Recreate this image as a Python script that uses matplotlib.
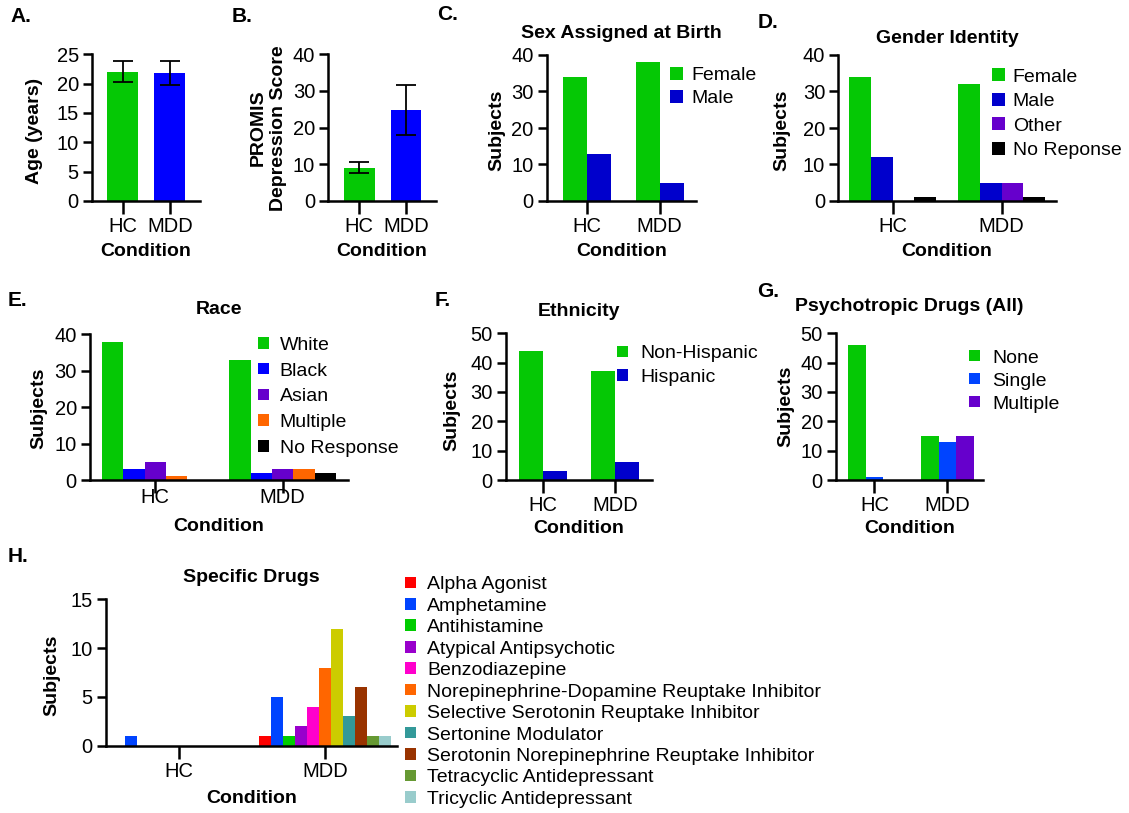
import numpy as np
import matplotlib
matplotlib.use('Agg')
import matplotlib.pyplot as plt
from matplotlib.patches import Patch

plt.rcParams['font.family'] = ['Liberation Sans', 'DejaVu Sans']

W, H = 1129, 813

groups = ['HC', 'MDD']

# A / B: means with error bars
age_mean = [22.0, 21.8]
age_err = [1.8, 2.1]
promis_mean = [9.1, 24.8]
promis_err = [1.4, 6.9]

# C-H: subject counts, one list per category (HC, MDD)
sex_labels = ['Female', 'Male']
sex_counts = [[34, 38], [13, 5]]

gender_labels = ['Female', 'Male', 'Other', 'No Reponse']
gender_counts = [[34, 32], [12, 5], [0, 5], [1, 1]]

race_labels = ['White', 'Black', 'Asian', 'Multiple', 'No Response']
race_counts = [[38, 33], [3, 2], [5, 3], [1, 3], [0, 2]]

eth_labels = ['Non-Hispanic', 'Hispanic']
eth_counts = [[44, 37], [3, 6]]

psy_labels = ['None', 'Single', 'Multiple']
psy_counts = [[46, 15], [1, 13], [0, 15]]

drug_labels = ['Alpha Agonist', 'Amphetamine', 'Antihistamine', 'Atypical Antipsychotic',
               'Benzodiazepine', 'Norepinephrine-Dopamine Reuptake Inhibitor',
               'Selective Serotonin Reuptake Inhibitor', 'Sertonine Modulator',
               'Serotonin Norepinephrine Reuptake Inhibitor', 'Tetracyclic Antidepressant',
               'Tricyclic Antidepressant']
drug_counts = [[0, 1], [1, 5], [0, 1], [0, 2], [0, 4], [0, 8],
               [0, 12], [0, 3], [0, 6], [0, 1], [0, 1]]

GREEN = '#05C805'
BLUE = '#0000FF'
NAVY = '#0000CC'
PURPLE = '#6600CC'
ORANGE = '#FF6600'
AZURE = '#0044FF'
BLACK = '#000000'
drug_colors = ['#FF0000', '#0044FF', '#00CC00', '#9900CC', '#FF00CC', '#FF6600',
               '#CCCC00', '#339999', '#993300', '#669933', '#99CCCC']

fig = plt.figure(figsize=(W / 100, H / 100), dpi=100)


def px_axes(x0, y0, x1, y1):
    return fig.add_axes([x0 / W, 1 - y1 / H, (x1 - x0) / W, (y1 - y0) / H])


def style(ax, ymax, ystep, xlim, xpad=2.5):
    ax.set_xlim(*xlim)
    ax.set_ylim(0, ymax)
    ax.set_yticks(np.arange(0, ymax + 1, ystep))
    ax.set_xticks(range(len(groups)))
    ax.set_xticklabels(groups)
    for s in ['top', 'right']:
        ax.spines[s].set_visible(False)
    for s in ['left', 'bottom']:
        ax.spines[s].set_linewidth(1.8)
    ax.tick_params(axis='y', length=6.5, width=1.8, pad=3, labelsize=14.5)
    ax.tick_params(axis='x', length=9, width=1.8, pad=xpad, labelsize=14.5)


def labels(ax, ylab, xl_y, yl_x, yl_y):
    ax.set_xlabel('Condition', fontsize=14, fontweight='bold', va='center')
    ax.xaxis.set_label_coords(0.5, xl_y)
    ax.set_ylabel(ylab, fontsize=14, fontweight='bold', va='center')
    ax.yaxis.set_label_coords(yl_x, yl_y)


def grouped(ax, counts, colors, width):
    n = len(counts)
    x = np.arange(len(groups))
    for i, (vals, c) in enumerate(zip(counts, colors)):
        ax.bar(x + (i - (n - 1) / 2) * width, vals, width, color=c, linewidth=0)


def legend_px(ax, labs, colors, x, yc, gap, spacing, size=10.5, fs=14):
    fs_px = fs * 100 / 72
    handles = [Patch(facecolor=c, edgecolor='none') for c in colors]
    hl = size / fs_px
    ax.legend(handles, labs, loc='upper left',
              bbox_to_anchor=(x / W, 1 - (yc - 6.5) / H), bbox_transform=fig.transFigure,
              frameon=False, fontsize=fs, borderpad=0, borderaxespad=0,
              handlelength=hl, handleheight=hl, handletextpad=gap / fs_px,
              labelspacing=spacing)


def title(ax, text, y):
    ax.text(0.5, y, text, transform=ax.transAxes, ha='center', va='center',
            fontsize=14, fontweight='bold')


def letter(text, x, y):
    fig.text(x / W, 1 - y / H, text, ha='left', va='center', fontsize=15, fontweight='bold')


x = np.arange(len(groups))

# A. Age
axA = px_axes(92, 54.3, 200, 201)
axA.bar(x, age_mean, 0.66, color=[GREEN, BLUE], linewidth=0)
axA.errorbar(x, age_mean, yerr=age_err, fmt='none', ecolor='black',
             elinewidth=1.3, capsize=7, capthick=1.3)
style(axA, 25, 5, (-0.66, 1.64))
labels(axA, 'Age (years)', -0.341, -0.528, 0.477)

# B. PROMIS
axB = px_axes(328.3, 54.3, 436, 201)
axB.bar(x, promis_mean, 0.66, color=[GREEN, BLUE], linewidth=0)
axB.errorbar(x, promis_mean, yerr=promis_err, fmt='none', ecolor='black',
             elinewidth=1.3, capsize=7, capthick=1.3)
style(axB, 40, 10, (-0.66, 1.64))
labels(axB, 'PROMIS\nDepression Score', -0.341, -0.557, 0.498)

# C. Sex assigned at birth
axC = px_axes(546.7, 55, 696, 201)
grouped(axC, sex_counts, [GREEN, NAVY], 0.33)
style(axC, 40, 10, (-0.55, 1.5))
labels(axC, 'Subjects', -0.347, -0.335, 0.486)
title(axC, 'Sex Assigned at Birth', 1.149)
legend_px(axC, sex_labels, [GREEN, NAVY], 670, 73.3, 8.7, 0.31, size=12.5)

# D. Gender identity
axD = px_axes(838.3, 55, 1056, 201)
grouped(axD, gender_counts, [GREEN, NAVY, PURPLE, BLACK], 0.2)
style(axD, 40, 10, (-0.5, 1.5))
labels(axD, 'Subjects', -0.347, -0.26, 0.486)
title(axD, 'Gender Identity', 1.11)
legend_px(axD, gender_labels, [GREEN, NAVY, PURPLE, BLACK], 992, 75, 8.3, 0.37, size=12.5)

# E. Race
axE = px_axes(90, 334.3, 348.3, 480)
grouped(axE, race_counts, [GREEN, BLUE, PURPLE, ORANGE, BLACK], 0.167)
style(axE, 40, 10, (-0.513, 1.516), xpad=-3.5)
labels(axE, 'Subjects', -0.316, -0.196, 0.492)
title(axE, 'Race', 1.172)
legend_px(axE, race_labels, [GREEN, BLUE, PURPLE, ORANGE, BLACK], 258.3, 343.3, 11, 0.45)

# F. Ethnicity
axF = px_axes(506, 333.3, 651.7, 480)
grouped(axF, eth_counts, [GREEN, NAVY], 0.33)
style(axF, 50, 10, (-0.505, 1.5))
labels(axF, 'Subjects', -0.33, -0.373, 0.478)
title(axF, 'Ethnicity', 1.147)
legend_px(axF, eth_labels, [GREEN, NAVY], 617.3, 351.7, 13, 0.35)

# G. Psychotropic drugs
axG = px_axes(836, 333.3, 983.3, 480)
grouped(axG, psy_counts, [GREEN, AZURE, PURPLE], 0.24)
style(axG, 50, 10, (-0.525, 1.49))
labels(axG, 'Subjects', -0.33, -0.339, 0.5)
title(axG, 'Psychotropic Drugs (All)', 1.181)
legend_px(axG, psy_labels, [GREEN, AZURE, PURPLE], 969.3, 356, 12.4, 0.31)

# H. Specific drugs
axH = px_axes(106, 599.3, 396.7, 745.7)
grouped(axH, drug_counts, drug_colors, 0.082)
style(axH, 15, 5, (-0.5, 1.49))
labels(axH, 'Subjects', -0.359, -0.187, 0.483)
title(axH, 'Specific Drugs', 1.146)
legend_px(axH, drug_labels, drug_colors, 405, 582.7, 11.7, 0.23)

letter('A.', 10, 16)
letter('B.', 232, 16)
letter('C.', 437, 15)
letter('D.', 758, 22.5)
letter('E.', 8, 300)
letter('F.', 435, 300.5)
letter('G.', 757, 291)
letter('H.', 8, 556)

fig.savefig('out.png', dpi=100)
